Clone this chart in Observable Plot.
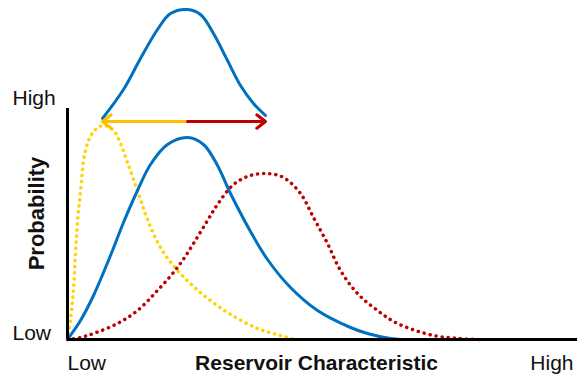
<!DOCTYPE html>
<html>
<head>
<meta charset="utf-8">
<script src="https://cdn.jsdelivr.net/npm/d3@7"></script>
<script src="https://cdn.jsdelivr.net/npm/@observablehq/plot@0.6"></script>
<style>
  html, body { margin: 0; padding: 0; background: #fff; }
  #chart { width: 580px; height: 383px; }
</style>
</head>
<body>
<div id="chart"></div>
<script>
// Axis extent (arbitrary units: low -> high)
const xDomain = [0, 510];
const yDomain = [0, 231];

// Axis end labels
const yTickValues = [0, 231];
const yTickLabels = ["Low", "High"];
const xTickValues = [0, 510];
const xTickLabels = ["Low", "High"];
const xTitle = "Reservoir Characteristic";
const yTitle = "Probability";

// Blue solid distribution
const blueX = [0, 13, 26, 43, 56, 70, 83, 100, 120, 136, 150, 163, 183, 200, 223, 250, 283, 300, 323, 333];
const blueY = [0, 19, 44, 84, 117, 149, 175, 195, 202, 195, 174, 146, 108, 80, 52, 29, 12, 6, 1, 0];

// Yellow dotted distribution
const yellowX = [0, 3, 6, 8, 10, 13, 18, 26, 36, 46, 53, 60, 70, 80, 93, 110, 133, 160, 190, 213, 228];
const yellowY = [0, 20, 50, 86, 117, 148, 189, 208, 214, 209, 196, 177, 149, 120, 92, 69, 47, 27, 11, 4, 0];

// Red dotted distribution
const redX = [0, 13, 26, 50, 70, 90, 110, 126, 140, 150, 166, 183, 200, 216, 233, 246, 260, 273, 290, 310, 330, 366, 393, 413];
const redY = [0, 2, 6, 16, 29, 49, 72, 96, 119, 135, 155, 164, 166, 162, 146, 122, 96, 69, 46, 29, 16, 4, 1, 0];

// Upper bell (uncertainty range)
const bellX = [35, 56, 73, 90, 103, 120, 133, 146, 160, 173, 186, 198];
const bellY = [221, 250, 281, 310, 326, 330, 325, 306, 279, 254, 236, 224];

// Range arrow: from centre to low end (yellow) and to high end (red)
const arrowLevel = 218;
const arrowCentre = 120;
const arrowLow = 35;
const arrowHigh = 198;

const toPts = (xs, ys) => xs.map((x, i) => ({x, y: ys[i]}));
const blue = toPts(blueX, blueY);
const yellow = toPts(yellowX, yellowY);
const red = toPts(redX, redY);
const bell = toPts(bellX, bellY);
const arrows = [
  {x1: arrowCentre, x2: arrowLow, y: arrowLevel, c: "#FFC000"},
  {x1: arrowCentre, x2: arrowHigh, y: arrowLevel, c: "#C00000"}
];

const font = "'Liberation Sans', Arial, Helvetica, sans-serif";
const fs = 21;
const txt = "#111";

const chart = Plot.plot({
  width: 580,
  height: 383,
  marginLeft: 67,
  marginRight: 3,
  marginTop: 108,
  marginBottom: 44,
  x: {domain: xDomain, axis: null},
  y: {domain: yDomain, axis: null},
  style: {background: "#fff", fontFamily: font},
  marks: [
    // dotted curves
    Plot.line(yellow, {x: "x", y: "y", curve: "catmull-rom", stroke: "#FFD200", strokeWidth: 3.5, strokeDasharray: "0.1 6", strokeLinecap: "round"}),
    Plot.line(red, {x: "x", y: "y", curve: "catmull-rom", stroke: "#C00000", strokeWidth: 3.5, strokeDasharray: "0.1 6", strokeLinecap: "round"}),
    // solid curves
    Plot.line(blue, {x: "x", y: "y", curve: "catmull-rom", stroke: "#0070C0", strokeWidth: 3}),
    Plot.line(bell, {x: "x", y: "y", curve: "catmull-rom", stroke: "#0070C0", strokeWidth: 3}),
    // arrows
    Plot.arrow(arrows, {x1: "x1", x2: "x2", y1: "y", y2: "y", stroke: "c", strokeWidth: 3, headLength: 5.5, headAngle: 75}),
    // axes lines
    Plot.ruleX([xDomain[0]], {y1: yDomain[0], y2: yDomain[1], stroke: "#000", strokeWidth: 3}),
    Plot.ruleY([yDomain[0]], {x1: xDomain[0], x2: xDomain[1], stroke: "#000", strokeWidth: 3}),
    // y end labels
    Plot.text([yTickLabels[1]], {x: xDomain[0], y: yTickValues[1], text: d => d, textAnchor: "start", lineAnchor: "middle", dx: -55, dy: -10, fontSize: fs, fill: txt}),
    Plot.text([yTickLabels[0]], {x: xDomain[0], y: yTickValues[0], text: d => d, textAnchor: "start", lineAnchor: "middle", dx: -55, dy: -6, fontSize: fs, fill: txt}),
    // x end labels
    Plot.text([xTickLabels[0]], {x: xTickValues[0], y: yDomain[0], text: d => d, textAnchor: "start", lineAnchor: "middle", dx: 0, dy: 24, fontSize: fs, fill: txt}),
    Plot.text([xTickLabels[1]], {x: xTickValues[1], y: yDomain[0], text: d => d, textAnchor: "end", lineAnchor: "middle", dx: -4, dy: 24, fontSize: fs, fill: txt}),
    // titles
    Plot.text([xTitle], {frameAnchor: "bottom", text: d => d, textAnchor: "middle", lineAnchor: "middle", dx: -6, dy: 24, fontSize: fs, fontWeight: "bold", fill: txt}),
    Plot.text([yTitle], {frameAnchor: "left", text: d => d, rotate: -90, textAnchor: "middle", lineAnchor: "middle", dx: -30.5, dy: -10.5, fontSize: 22, fontWeight: "bold", fill: txt})
  ]
});
document.getElementById("chart").appendChild(chart);
</script>
</body>
</html>
